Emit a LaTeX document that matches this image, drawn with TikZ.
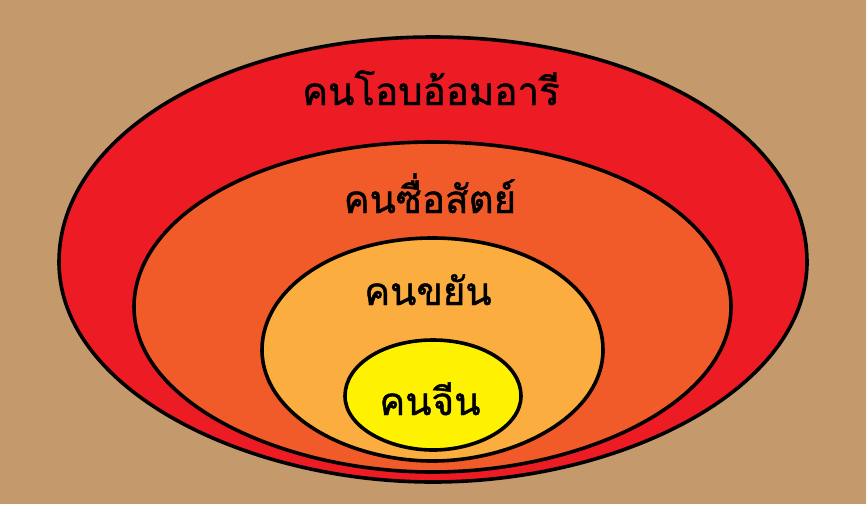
\documentclass[tikz,border=0pt]{standalone}
\usepackage{fontspec}
\newfontfamily\thaifont[Script=Thai,FakeBold=1.2]{Loma}
\definecolor{bgtan}{RGB}{196,153,108}
\definecolor{ringred}{RGB}{237,28,36}
\definecolor{ringorange}{RGB}{241,90,41}
\definecolor{ringlight}{RGB}{251,174,63}
\definecolor{ringyellow}{RGB}{255,242,0}
\newcommand\eggshape[6]{%
  \draw[ring,fill=#1] (#2,{#3-#5})
    .. controls ({#2+0.56*#4},{#3-#5}) and ({#2+#4},{#3-0.56*#5}) .. ({#2+#4},#3)
    .. controls ({#2+#4},{#3+0.58*#6}) and ({#2+0.5*#4},{#3+#6}) .. (#2,{#3+#6})
    .. controls ({#2-0.5*#4},{#3+#6}) and ({#2-#4},{#3+0.58*#6}) .. ({#2-#4},#3)
    .. controls ({#2-#4},{#3-0.56*#5}) and ({#2-0.56*#4},{#3-#5}) .. cycle;}
\tikzset{
  ring/.style={draw=black,line width=3.6pt},
  label/.style={font=\thaifont\fontsize{38.5}{38.5}\selectfont,text=black,anchor=base,inner sep=0pt}
}
\begin{document}
\begin{tikzpicture}[x=1pt,y=-1pt]
\fill[bgtan] (0,0) rectangle (866,504);
\useasboundingbox (0,0) rectangle (866,504);
\eggshape{ringred}{433}{262}{374}{225}{220}
\eggshape{ringorange}{432.5}{307}{298.5}{165}{165}
\eggshape{ringlight}{432.5}{350}{170.5}{112}{111}
\eggshape{ringyellow}{433}{396}{88}{56}{54}
\node[label] (t1) at (431,105) {คนโอบอ้อมอารี};
\node[label] (t2) at (430,213) {คนซื่อสัตย์};
\node[label] (t3) at (428,305) {คนขยัน};
\node[label] (t4) at (430,415) {คนจีน};
\end{tikzpicture}
\end{document}
